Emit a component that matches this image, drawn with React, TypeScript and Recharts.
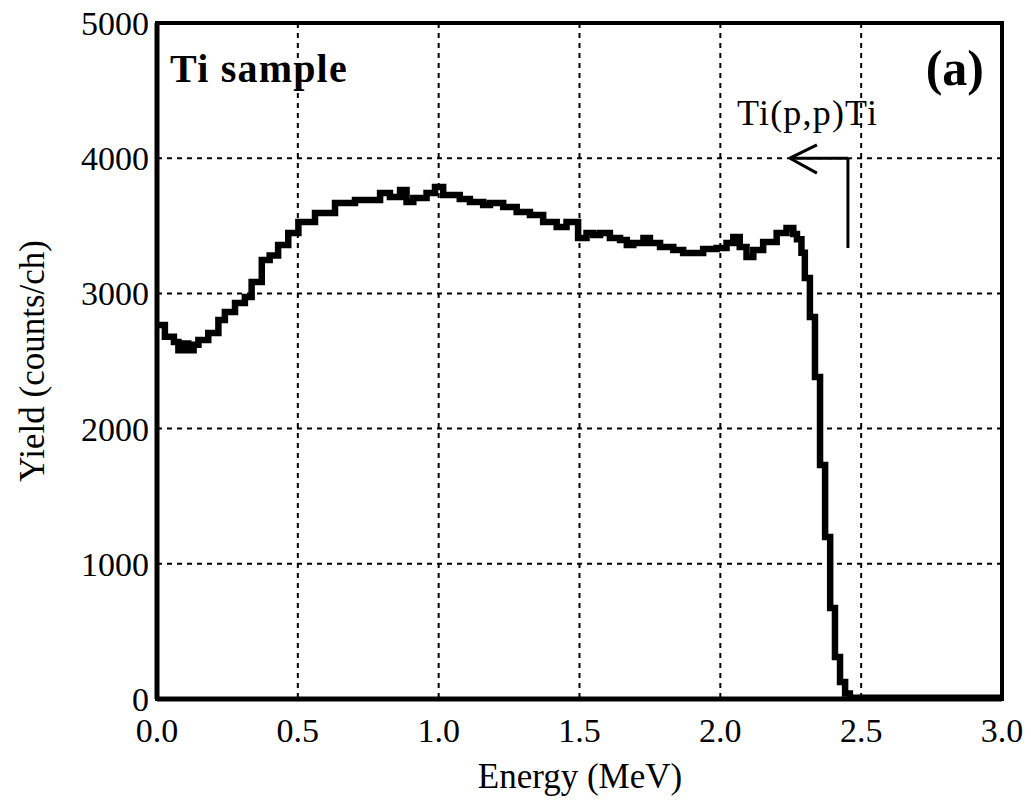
import React from "react";
import { LineChart, Line, XAxis, YAxis, CartesianGrid, ReferenceLine, ReferenceArea } from "recharts";

// step start energies (MeV) and yields (counts/ch)
const energies = [
  0.0, 0.028, 0.06, 0.076, 0.094, 0.111, 0.13, 0.147, 0.182, 0.218, 0.241, 0.277, 0.312, 0.336, 0.372, 0.4,
  0.43, 0.466, 0.502, 0.561, 0.632, 0.703, 0.756, 0.792, 0.827, 0.863, 0.886, 0.91, 0.957, 0.987, 1.016,
  1.075, 1.111, 1.158, 1.182, 1.229, 1.277, 1.324, 1.371, 1.419, 1.454, 1.495, 1.525, 1.549, 1.573, 1.608,
  1.644, 1.668, 1.691, 1.727, 1.75, 1.786, 1.833, 1.868, 1.939, 1.987, 2.022, 2.046, 2.069, 2.093, 2.117,
  2.152, 2.2, 2.235, 2.259, 2.272, 2.288, 2.3, 2.318, 2.336, 2.354, 2.372, 2.39, 2.407, 2.425, 2.443, 2.46,
  3.0,
];
const yields = [
  2766, 2680, 2640, 2580, 2630, 2580, 2620, 2655, 2707, 2803, 2862, 2929, 2973, 3084, 3247, 3280,
  3358, 3447, 3528, 3595, 3668, 3690, 3691, 3743, 3713, 3765, 3676, 3706, 3743, 3787, 3728,
  3698, 3676, 3654, 3668, 3639, 3602, 3580, 3528, 3491, 3528, 3410, 3447, 3432, 3447, 3410,
  3395, 3358, 3373, 3410, 3373, 3343, 3321, 3299, 3328, 3336, 3373, 3417, 3343, 3269, 3321,
  3380, 3447, 3484, 3440, 3400, 3300, 3114, 2825, 2382, 1731, 1198, 673, 311, 126, 40, 10,
  5,
];

const xTicks = [0, 0.5, 1.0, 1.5, 2.0, 2.5, 3.0];
const yTicks = [0, 1000, 2000, 3000, 4000, 5000];

const data = energies.map((e, i) => ({ e, y: yields[i] }));

const serif = '"Liberation Serif", "Times New Roman", serif';
const tickStyle = { fill: "#000", fontSize: 34, fontFamily: serif };

export default function App() {
  return (
    <div style={{ position: "absolute", left: 0, top: 0, width: 1031, height: 803, background: "#fff" }}>
      <LineChart width={1031} height={803} data={data} margin={{ top: 23, right: 29, left: 0, bottom: 0 }}>
        <CartesianGrid stroke="#000" strokeWidth={2} strokeDasharray="5 5" horizontalValues={yTicks} verticalValues={xTicks} />
        <XAxis
          dataKey="e"
          type="number"
          domain={[0, 3]}
          ticks={xTicks}
          tickFormatter={(v: number) => v.toFixed(1)}
          tick={tickStyle}
          tickLine={false}
          tickMargin={13}
          axisLine={{ stroke: "#000", strokeWidth: 5 }}
          height={104}
          allowDataOverflow
        />
        <YAxis
          type="number"
          domain={[0, 5000]}
          ticks={yTicks}
          tick={tickStyle}
          tickLine={false}
          axisLine={{ stroke: "#000", strokeWidth: 5 }}
          width={157}
          allowDataOverflow
        />
        <ReferenceArea x1={0} x2={3} y1={0} y2={5000} fill="none" stroke="#000" strokeWidth={4} ifOverflow="visible" />
        <Line
          type="stepAfter"
          dataKey="y"
          stroke="#000"
          strokeWidth={6.5}
          dot={false}
          isAnimationActive={false}
          strokeLinejoin="miter"
          strokeLinecap="square"
        />
        {/* Ti(p,p)Ti edge marker */}
        <ReferenceLine segment={[{ x: 2.453, y: 3336 }, { x: 2.453, y: 4000 }]} stroke="#000" strokeWidth={3} ifOverflow="visible" />
        <ReferenceLine segment={[{ x: 2.453, y: 4000 }, { x: 2.247, y: 4000 }]} stroke="#000" strokeWidth={3} ifOverflow="visible" />
        <ReferenceLine segment={[{ x: 2.247, y: 4000 }, { x: 2.343, y: 4098 }]} stroke="#000" strokeWidth={3} ifOverflow="visible" />
        <ReferenceLine segment={[{ x: 2.247, y: 4000 }, { x: 2.343, y: 3890 }]} stroke="#000" strokeWidth={3} ifOverflow="visible" />
      </LineChart>
      <svg width={1031} height={803} style={{ position: "absolute", left: 0, top: 0, pointerEvents: "none" }}>
        <text x={170} y={82} fontFamily={serif} fontWeight="bold" fontSize={40} letterSpacing={1.2} fill="#000">Ti sample</text>
        <text x={984} y={85} textAnchor="end" fontFamily={serif} fontWeight="bold" fontSize={50} fill="#000">(a)</text>
        <text x={737} y={125} fontFamily={serif} fontSize={36} letterSpacing={1.2} fill="#000">Ti(p,p)Ti</text>
        <text x={580} y={788} textAnchor="middle" fontFamily={serif} fontSize={35} fill="#000">Energy (MeV)</text>
        <text x={44} y={361} textAnchor="middle" transform="rotate(-90 44 361)" fontFamily={serif} fontSize={35} fill="#000">Yield (counts/ch)</text>
      </svg>
    </div>
  );
}
